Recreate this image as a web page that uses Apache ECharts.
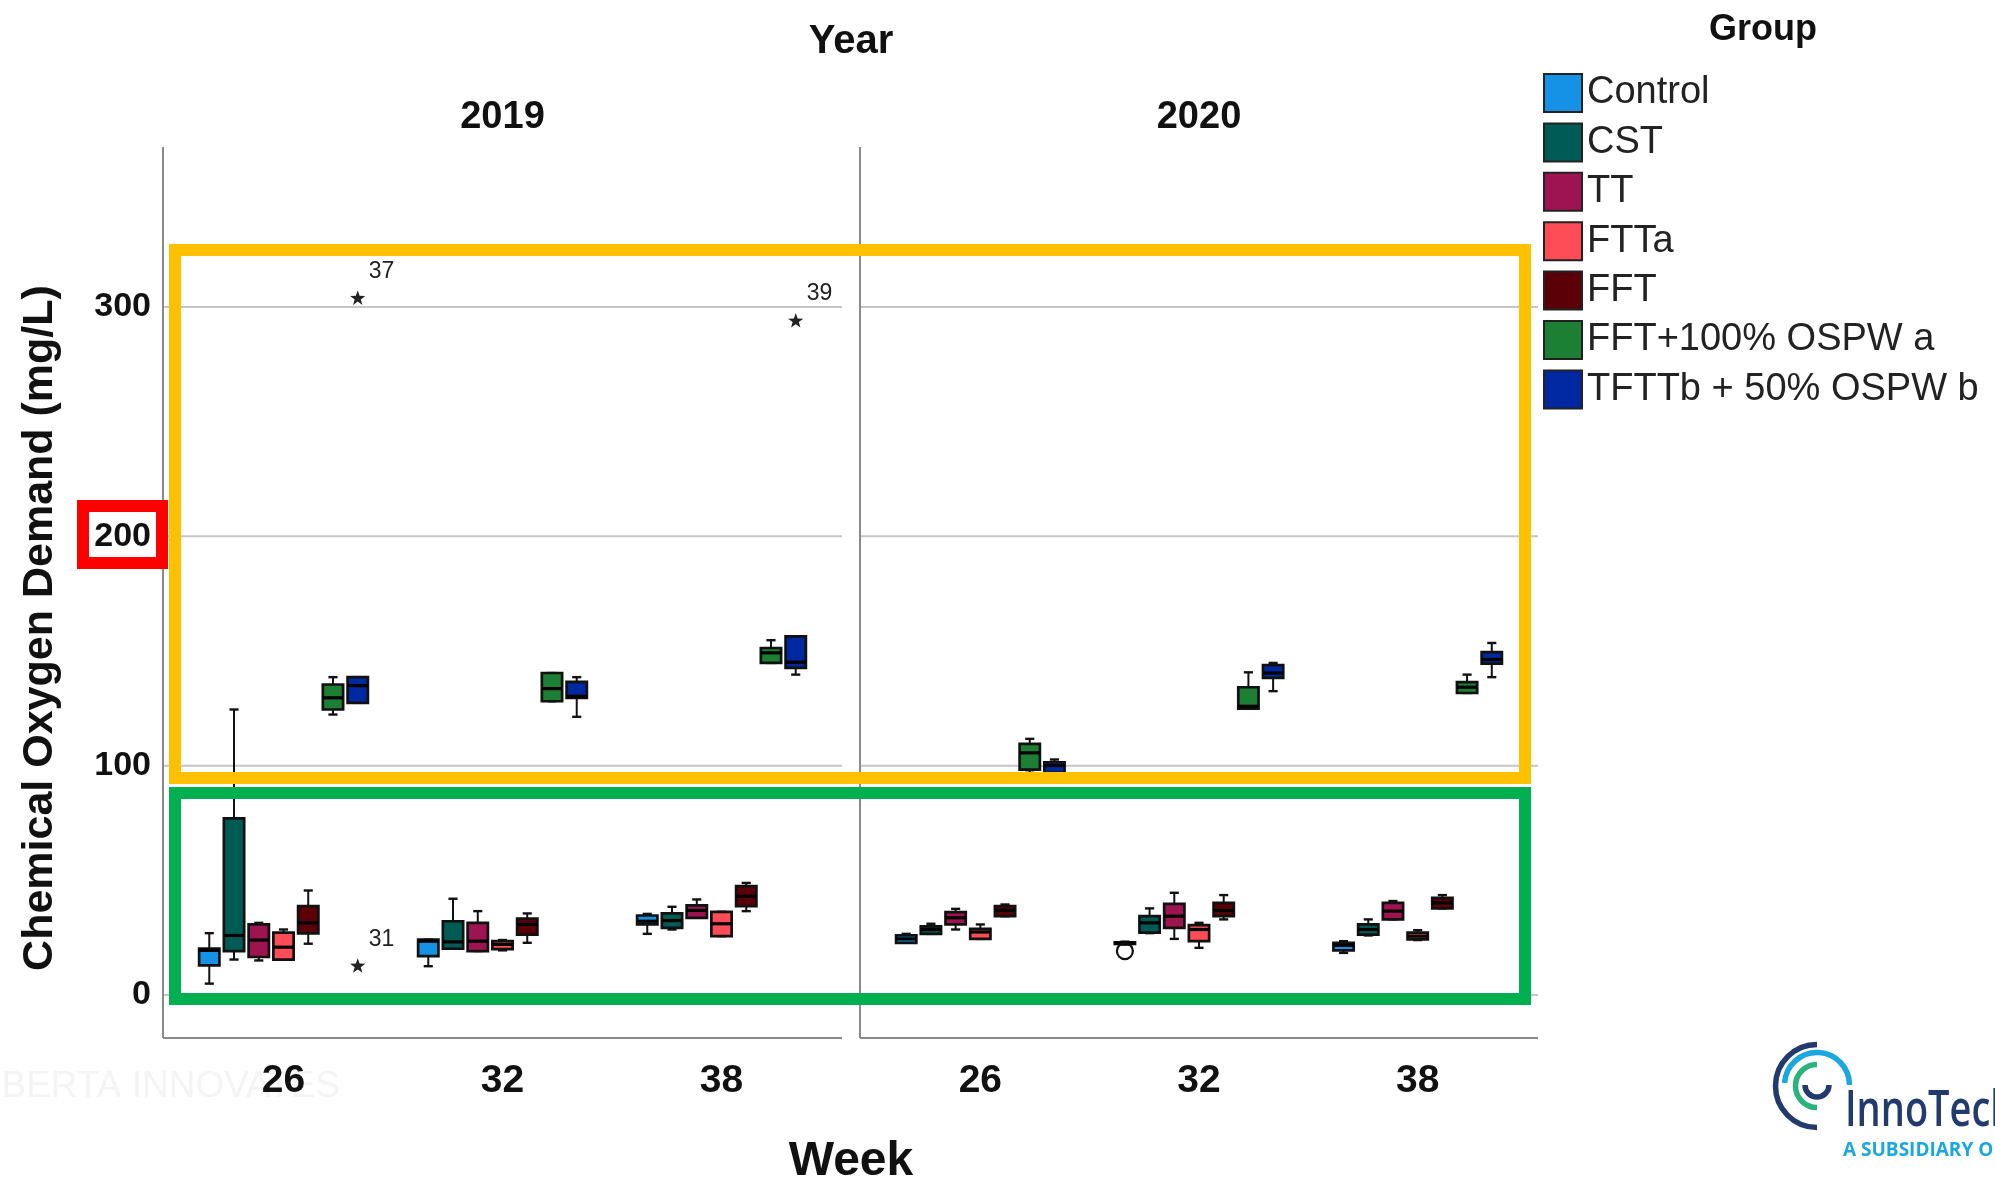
<!DOCTYPE html>
<html>
<head>
<meta charset="utf-8">
<script src="https://cdn.jsdelivr.net/npm/echarts@6/dist/echarts.min.js"></script>
<style>
  html, body { margin: 0; padding: 0; background: #ffffff; }
  #chart { width: 1995px; height: 1180px; }
</style>
</head>
<body>
<div id="chart"></div>
<script>
// ---- data -------------------------------------------------------------
const weeks = ['26', '32', '38'];
const years = ['2019', '2020'];
const groups = ['Control', 'CST', 'TT', 'FTTa', 'FFT', 'FFT+100% OSPW a', 'TFTTb + 50% OSPW b'];
const groupColors = ['#1591e6', '#005b55', '#9e1450', '#ff4d57', '#5a0006', '#1c7f34', '#0028a0'];
const yTicks = [0, 100, 200, 300];

// each row: [low whisker, Q1, median, Q3, high whisker] for weeks 26, 32, 38
const control2019 = [[5, 13, 19.5, 20.3, 27], [12.6, 17, 23.5, 24.2, 24.2], [26.7, 30.8, 32.2, 34.7, 35.4]];
const cst2019     = [[15.5, 19.2, 26, 77, 124.5], [20.2, 20.2, 23.2, 32.2, 42], [28.6, 29.3, 32.5, 35.6, 38.5]];
const tt2019      = [[15.1, 16.6, 24, 30.8, 31.5], [19.2, 19.2, 23.5, 31.5, 36.6], [33.7, 33.7, 36.9, 39.1, 41.7]];
const ftta2019    = [[15.5, 15.5, 20.9, 27.2, 28.6], [19.5, 20, 22.1, 23.5, 24], [25.7, 25.7, 31.1, 36.3, 36.3]];
const fft2019     = [[22.4, 26.9, 31.5, 38.8, 45.6], [22.8, 26.4, 30.8, 33.3, 35.6], [36.6, 38.8, 43.1, 47.5, 48.9]];
const fftOspw2019 = [[122.3, 124.5, 129.6, 135.4, 138.6], [128.1, 128.1, 133.6, 140.4, 140.4], [144.8, 144.8, 149.2, 151.3, 154.7]];
const tfttOspw2019 = [[127.4, 127.4, 134.9, 138.6, 138.6], [121.3, 129.6, 130.3, 136.5, 138.6], [139.7, 142.6, 145.1, 156.4, 156.4]];

const control2020 = [[22.8, 22.8, 24.5, 26, 26.7], [22, 22.3, 22.6, 23, 23.3], [18.4, 19.5, 21.7, 22.8, 23.5]];
const cst2020     = [[26.7, 26.7, 28.6, 30, 31.1], [27, 27.2, 31.5, 34.4, 37.8], [26, 26.4, 28.6, 30.8, 33]];
const tt2020      = [[28.6, 30.8, 33.7, 36.2, 37.6], [24.5, 29.3, 34.4, 39.8, 44.6], [33, 33, 36.6, 40.2, 41]];
const ftta2020    = [[24.5, 24.5, 27.5, 28.9, 30.8], [20.6, 23.5, 28.6, 30.5, 31.5], [24, 24.3, 25.7, 27.2, 28.3]];
const fft2020     = [[34.4, 34.4, 36.9, 38.8, 39.5], [33, 34.4, 36.9, 40.2, 43.6], [37.8, 37.8, 40.2, 42.4, 43.6]];
const fftOspw2020 = [[96.9, 98.3, 105.6, 109.5, 111.7], [124.9, 124.9, 125.9, 134.2, 140.7], [131.7, 131.7, 134.2, 136.4, 139.7]];
const tfttOspw2020 = [[96.9, 96.9, 100.1, 101.5, 102.7], [132.5, 138.3, 140.4, 143.8, 144.8], [138.6, 144.5, 146.3, 149.5, 153.5]];

// outliers: [week index, group index, value, case label, kind]
const outliers2019 = [[0, 6, 303.7, '37', 'extreme'], [0, 6, 12.6, '31', 'extreme'], [2, 6, 293.8, '39', 'extreme']];
const outliers2020 = [[1, 0, 19.2, '', 'mild']];

const boxes = {
  '2019': [control2019, cst2019, tt2019, ftta2019, fft2019, fftOspw2019, tfttOspw2019],
  '2020': [control2020, cst2020, tt2020, ftta2020, fft2020, fftOspw2020, tfttOspw2020]
};
const outliers = { '2019': outliers2019, '2020': outliers2020 };

// ---- layout -----------------------------------------------------------
const FONT = '"Liberation Sans", Arial, Helvetica, sans-serif';
const LOGO_FONT = '"Open Sans", "Noto Sans", sans-serif';
const Y_MIN = -18.7, Y_MAX = 369.7;
const TOP = 147, BOTTOM = 1038;
const panels = [[163, 842], [860, 1538]];
const PAD = 11;
const FRAME = '#8a8a8a';

function groupOffset(g, band) {
  const step = (band * 0.8 - 2) / groups.length;
  return { dx: (g - (groups.length - 1) / 2) * step, step: step };
}

function seg(x1, y1, x2, y2, lw, color) {
  return { type: 'line', shape: { x1: x1, y1: y1, x2: x2, y2: y2 },
           style: { stroke: color || '#111', lineWidth: lw } };
}

function renderBox(g) {
  return function (params, api) {
    const w = api.value(0);
    const band = api.size([1, 0])[0];
    const o = groupOffset(g, band);
    const cx = api.coord([w, 0])[0] + o.dx;
    const half = o.step * 0.41;
    const cap = half * 0.45;
    const py = function (k) { return api.coord([w, api.value(k)])[1]; };
    const lo = py(1), q1 = py(2), md = py(3), q3 = py(4), hi = py(5);
    return {
      type: 'group',
      children: [
        seg(cx, hi, cx, q3, 2),
        seg(cx, q1, cx, lo, 2),
        seg(cx - cap, hi, cx + cap, hi, 2.4),
        seg(cx - cap, lo, cx + cap, lo, 2.4),
        { type: 'rect',
          shape: { x: cx - half, y: q3, width: 2 * half, height: Math.max(q1 - q3, 1) },
          style: { fill: groupColors[g], stroke: '#111', lineWidth: 2.7 } },
        seg(cx - half, md, cx + half, md, 3.2, '#000')
      ]
    };
  };
}

function renderOutlier(list) {
  return function (params, api) {
    const item = list[params.dataIndex];
    const w = api.value(0);
    const band = api.size([1, 0])[0];
    const o = groupOffset(item[1], band);
    const p = api.coord([w, api.value(1)]);
    const cx = p[0] + o.dx, cy = p[1];
    const children = [];
    if (item[4] === 'extreme') {
      const pts = [];
      for (let i = 0; i < 10; i++) {
        const r = i % 2 === 0 ? 8 : 3.2;
        const a = -Math.PI / 2 + i * Math.PI / 5;
        pts.push([cx + r * Math.cos(a), cy + r * Math.sin(a)]);
      }
      children.push({ type: 'polygon', shape: { points: pts }, style: { fill: '#222' } });
    } else {
      children.push({ type: 'circle', shape: { cx: cx, cy: cy, r: 8 },
                      style: { fill: 'none', stroke: '#111', lineWidth: 2.2 } });
    }
    if (item[3]) {
      children.push({ type: 'text', x: cx + 11, y: cy - 27,
        style: { text: item[3], fontSize: 23, fontFamily: FONT, fill: '#222',
                 align: 'left', verticalAlign: 'middle' } });
    }
    return { type: 'group', children: children };
  };
}

function renderGridLine(params, api) {
  const cs = params.coordSys;
  const y = api.coord([0, api.value(1)])[1];
  return seg(cs.x - PAD, y, cs.x + cs.width + PAD, y, 2, '#c6c6c6');
}

const grids = panels.map(function (p) {
  return { left: p[0] + PAD, top: TOP, width: p[1] - p[0] - 2 * PAD, height: BOTTOM - TOP };
});

const xAxes = panels.map(function (p, i) {
  return {
    type: 'category', gridIndex: i, data: weeks, boundaryGap: true,
    axisLine: { show: false }, axisTick: { show: false }, splitLine: { show: false },
    axisLabel: { fontSize: 39, fontWeight: 'bold', color: '#111', fontFamily: FONT, margin: 24 }
  };
});

const yAxes = panels.map(function (p, i) {
  return {
    type: 'value', gridIndex: i, min: Y_MIN, max: Y_MAX, splitNumber: 4,
    axisLine: { show: false }, axisTick: { show: false }, splitLine: { show: false },
    axisLabel: i === 0 ? {
      show: true, customValues: yTicks, fontSize: 34, fontWeight: 'bold', color: '#111',
      fontFamily: FONT, margin: 23,
      formatter: function (v) { return yTicks.indexOf(v) >= 0 ? String(v) : ''; }
    } : { show: false }
  };
});

const series = [];
years.forEach(function (yr, gi) {
  series.push({
    type: 'custom', name: 'grid' + yr, xAxisIndex: gi, yAxisIndex: gi, z: 1, silent: true,
    data: yTicks.map(function (v) { return [0, v]; }),
    encode: { x: 0, y: 1 }, renderItem: renderGridLine
  });
  boxes[yr].forEach(function (rows, g) {
    series.push({
      type: 'custom', name: groups[g], xAxisIndex: gi, yAxisIndex: gi, z: 3,
      itemStyle: { color: groupColors[g] },
      data: rows.map(function (r, w) { return [w].concat(r); }),
      encode: { x: 0, y: [1, 2, 3, 4, 5] },
      renderItem: renderBox(g)
    });
  });
  series.push({
    type: 'custom', name: 'outliers' + yr, xAxisIndex: gi, yAxisIndex: gi, z: 4, silent: true,
    data: outliers[yr].map(function (o) { return [o[0], o[2]]; }),
    encode: { x: 0, y: 1 },
    renderItem: renderOutlier(outliers[yr])
  });
});

// ---- decorations: frame, titles, highlight boxes, logo ------------------
const graphics = [];
panels.forEach(function (p) {
  graphics.push(Object.assign(seg(p[0], TOP, p[0], BOTTOM, 2, FRAME), { z: 5 }));
  graphics.push(Object.assign(seg(p[0], BOTTOM, p[1], BOTTOM, 2, FRAME), { z: 5 }));
});

function label(text, x, y, size, opts) {
  return Object.assign({
    type: 'text', x: x, y: y, z: 6,
    style: { text: text, fontSize: size, fontWeight: 'bold', fontFamily: FONT, fill: '#111',
             align: 'center', verticalAlign: 'middle' }
  }, opts || {});
}

graphics.push(label('Year', 851, 42, 40));
years.forEach(function (yr, i) {
  graphics.push(label(yr, (panels[i][0] + panels[i][1]) / 2, 118, 38));
});
graphics.push(label('Week', 851, 1162, 48));
graphics.push(label('Chemical Oxygen Demand (mg/L)', 40, 628, 43, { rotation: Math.PI / 2 }));
graphics.push(label('Group', 1763, 30, 36));

// faint watermark near the bottom-left corner
graphics.push({
  type: 'text', x: 340, y: 1087, z: 0,
  style: { text: 'ALBERTA INNOVATES', fontSize: 37, fontFamily: FONT, fill: '#f4f4f4',
           align: 'right', verticalAlign: 'middle' }
});

// highlight rectangles
function frameRect(x, y, w, h, color) {
  return { type: 'rect', z: 50, shape: { x: x, y: y, width: w, height: h },
           style: { fill: 'none', stroke: color, lineWidth: 12 } };
}
graphics.push(frameRect(175, 250, 1350, 528, '#ffc000'));
graphics.push(frameRect(175, 793, 1350, 206, '#00b050'));
graphics.push(frameRect(83, 506, 79, 57, '#ff0000'));

// logo
function arc(cx, cy, r, a0, a1, color) {
  return { type: 'arc', z: 6, shape: { cx: cx, cy: cy, r: r, startAngle: a0, endAngle: a1, clockwise: true },
           style: { stroke: color, lineWidth: 5.5, fill: 'none' } };
}
graphics.push(arc(1817, 1086, 41.5, Math.PI / 2, Math.PI * 1.5, '#233a6e'));
graphics.push(arc(1817, 1085, 32.5, Math.PI * 1.02, Math.PI * 2, '#1ba8e0'));
graphics.push(arc(1817, 1086, 21.5, Math.PI / 2, Math.PI * 1.5, '#2bb37d'));
graphics.push(arc(1817, 1085, 12, 0, Math.PI, '#233a6e'));
graphics.push({
  type: 'text', x: 1845, y: 1112, z: 6, scaleX: 0.76,
  style: { text: 'InnoTech', fontSize: 50, fontWeight: 600, fontFamily: LOGO_FONT,
           fill: '#233a6e', align: 'left', verticalAlign: 'middle' }
});
graphics.push({
  type: 'text', x: 1843, y: 1151, z: 6,
  style: { text: 'A SUBSIDIARY OF', fontSize: 19, fontWeight: 'bold', fontFamily: LOGO_FONT,
           fill: '#1ba8e0', align: 'left', verticalAlign: 'middle' }
});

const chart = echarts.init(document.getElementById('chart'), null, { renderer: 'canvas', width: 1995, height: 1180 });
chart.setOption({
  backgroundColor: '#ffffff',
  animation: false,
  grid: grids,
  xAxis: xAxes,
  yAxis: yAxes,
  legend: {
    data: groups, orient: 'vertical', left: 1543, top: 73, padding: 0,
    itemWidth: 38, itemHeight: 38, itemGap: 9.4, icon: 'rect', selectedMode: false,
    itemStyle: { borderColor: '#222', borderWidth: 2 },
    textStyle: { fontSize: 38, lineHeight: 38, color: '#222', fontFamily: FONT }
  },
  series: series,
  graphic: graphics
});
</script>
</body>
</html>
